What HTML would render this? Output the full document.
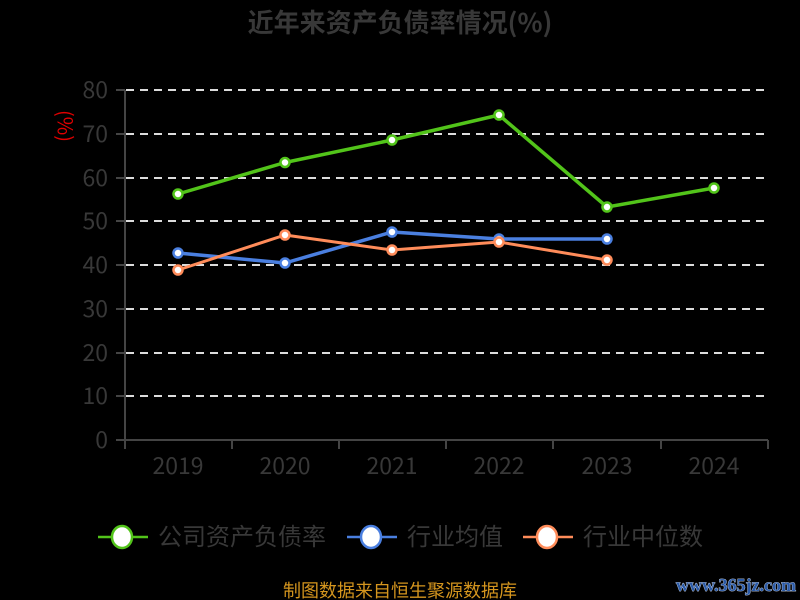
<!DOCTYPE html>
<html><head><meta charset="utf-8"><style>
html,body{margin:0;padding:0;background:#000;}
svg{display:block;}
text{font-family:"Noto Sans CJK SC","Liberation Sans",sans-serif;}
</style></head><body>
<svg width="800" height="600" viewBox="0 0 800 600" xmlns="http://www.w3.org/2000/svg">
<rect width="800" height="600" fill="#000"/>
<text x="400" y="32" text-anchor="middle" font-size="26" font-weight="bold" fill="#383838">近年来资产负债率情况(%)</text>
<text x="0" y="0" transform="translate(58,126) rotate(90)" text-anchor="middle" font-size="20" fill="#e00000">(%)</text>
<g stroke="#dcdcdc" stroke-width="2" stroke-dasharray="8,6">
<line x1="126" y1="90" x2="768" y2="90"/>
<line x1="126" y1="134" x2="768" y2="134"/>
<line x1="126" y1="178" x2="768" y2="178"/>
<line x1="126" y1="221" x2="768" y2="221"/>
<line x1="126" y1="265" x2="768" y2="265"/>
<line x1="126" y1="309" x2="768" y2="309"/>
<line x1="126" y1="353" x2="768" y2="353"/>
<line x1="126" y1="396" x2="768" y2="396"/>
</g>
<g stroke="#444" stroke-width="2" fill="none">
<line x1="125" y1="90" x2="125" y2="449"/>
<line x1="116" y1="440" x2="768" y2="440"/>
<line x1="116" y1="90" x2="125" y2="90"/>
<line x1="116" y1="134" x2="125" y2="134"/>
<line x1="116" y1="178" x2="125" y2="178"/>
<line x1="116" y1="221" x2="125" y2="221"/>
<line x1="116" y1="265" x2="125" y2="265"/>
<line x1="116" y1="309" x2="125" y2="309"/>
<line x1="116" y1="353" x2="125" y2="353"/>
<line x1="116" y1="396" x2="125" y2="396"/>
<line x1="232" y1="440" x2="232" y2="449"/>
<line x1="339" y1="440" x2="339" y2="449"/>
<line x1="446" y1="440" x2="446" y2="449"/>
<line x1="553" y1="440" x2="553" y2="449"/>
<line x1="661" y1="440" x2="661" y2="449"/>
<line x1="768" y1="440" x2="768" y2="449"/>
</g>
<g font-size="23" fill="#383838" text-anchor="end">
<text x="108" y="98">80</text>
<text x="108" y="142">70</text>
<text x="108" y="186">60</text>
<text x="108" y="229">50</text>
<text x="108" y="273">40</text>
<text x="108" y="317">30</text>
<text x="108" y="361">20</text>
<text x="108" y="404">10</text>
<text x="108" y="448">0</text>
</g>
<g font-size="23" fill="#383838" text-anchor="middle">
<text x="178" y="474">2019</text>
<text x="285" y="474">2020</text>
<text x="392" y="474">2021</text>
<text x="499" y="474">2022</text>
<text x="607" y="474">2023</text>
<text x="714" y="474">2024</text>
</g>
<polyline points="178,194 285,162.5 392,140 499,115 607,207 714,188" fill="none" stroke="#52c41a" stroke-width="3.5" stroke-linejoin="round"/>
<polyline points="178,253 285,263 392,232 499,239 607,239" fill="none" stroke="#4a7fe0" stroke-width="3.5" stroke-linejoin="round"/>
<polyline points="178,270 285,235 392,250 499,242 607,260" fill="none" stroke="#ff8c5a" stroke-width="3" stroke-linejoin="round"/>
<g fill="#fff" stroke-width="2.5">
<g stroke="#52c41a">
<circle cx="178" cy="194" r="4.5"/><circle cx="285" cy="162.5" r="4.5"/><circle cx="392" cy="140" r="4.5"/><circle cx="499" cy="115" r="4.5"/><circle cx="607" cy="207" r="4.5"/><circle cx="714" cy="188" r="4.5"/>
</g>
<g stroke="#4a7fe0">
<circle cx="178" cy="253" r="4.5"/><circle cx="285" cy="263" r="4.5"/><circle cx="392" cy="232" r="4.5"/><circle cx="499" cy="239" r="4.5"/><circle cx="607" cy="239" r="4.5"/>
</g>
<g stroke="#ff8c5a">
<circle cx="178" cy="270" r="4.5"/><circle cx="285" cy="235" r="4.5"/><circle cx="392" cy="250" r="4.5"/><circle cx="499" cy="242" r="4.5"/><circle cx="607" cy="260" r="4.5"/>
</g>
</g>
<g>
<line x1="98" y1="537" x2="148" y2="537" stroke="#52c41a" stroke-width="2.5"/>
<ellipse cx="122" cy="537" rx="10" ry="11" fill="#fff" stroke="#52c41a" stroke-width="2.5"/>
<text x="158" y="545" font-size="24" fill="#383838">公司资产负债率</text>
<line x1="347" y1="537" x2="397" y2="537" stroke="#4a7fe0" stroke-width="2.5"/>
<ellipse cx="371" cy="537" rx="10" ry="11" fill="#fff" stroke="#4a7fe0" stroke-width="2.5"/>
<text x="407" y="545" font-size="24" fill="#383838">行业均值</text>
<line x1="523" y1="537" x2="573" y2="537" stroke="#ff8c5a" stroke-width="2.5"/>
<ellipse cx="547" cy="537" rx="10" ry="11" fill="#fff" stroke="#ff8c5a" stroke-width="2.5"/>
<text x="583" y="545" font-size="24" fill="#383838">行业中位数</text>
</g>
<text x="400" y="597" text-anchor="middle" font-size="18" fill="#d4951e">制图数据来自恒生聚源数据库</text>
<text x="736" y="591" text-anchor="middle" style="font-family:'Liberation Serif',serif;font-size:18px;font-weight:bold;" fill="#2a5aa8" stroke="#cfd8e8" stroke-width="0.8" paint-order="stroke">www.365jz.com</text>
</svg>
</body></html>
